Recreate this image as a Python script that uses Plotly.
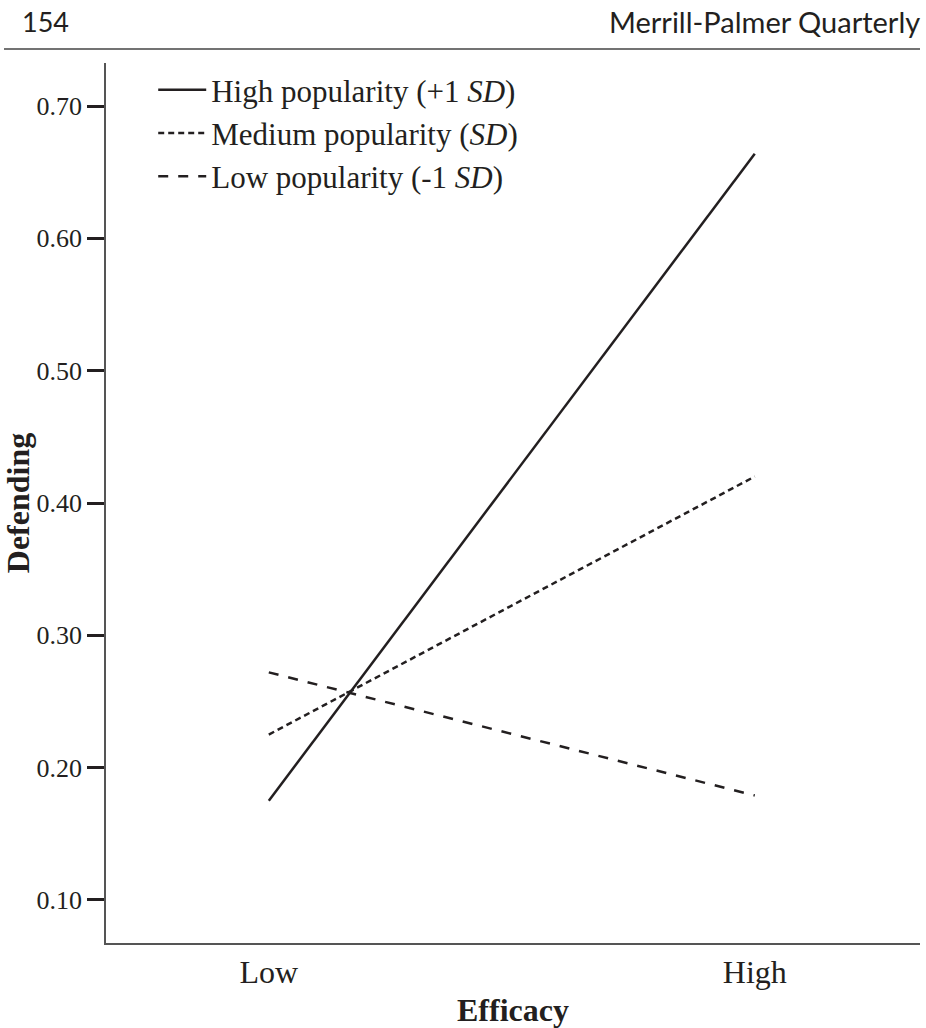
import plotly.graph_objects as go

# Predicted defending at low / high efficacy for three popularity levels
efficacy = ["Low", "High"]
high_pop = [0.175, 0.664]
medium_pop = [0.225, 0.420]
low_pop = [0.272, 0.179]

series_names = [
    "High popularity (+1 <i>SD</i>)",
    "Medium popularity (<i>SD</i>)",
    "Low popularity (-1 <i>SD</i>)",
]

y_ticks = [0.10, 0.20, 0.30, 0.40, 0.50, 0.60, 0.70]
y_tick_text = ["0.10", "0.20", "0.30", "0.40", "0.50", "0.60", "0.70"]

SERIF = "Liberation Serif, Times New Roman, serif"
INK = "#231f20"

fig = go.Figure()
fig.add_trace(go.Scatter(x=efficacy, y=high_pop, mode="lines", name=series_names[0],
                         line=dict(color=INK, width=2.5, dash="solid")))
fig.add_trace(go.Scatter(x=efficacy, y=medium_pop, mode="lines", name=series_names[1],
                         line=dict(color=INK, width=2.5, dash="6px,4px")))
fig.add_trace(go.Scatter(x=efficacy, y=low_pop, mode="lines", name=series_names[2],
                         line=dict(color=INK, width=2.5, dash="10px,10px")))

fig.update_layout(
    width=926, height=1028,
    margin=dict(l=106, r=6, t=63, b=85),
    paper_bgcolor="white", plot_bgcolor="white",
    showlegend=True,
    legend=dict(
        x=0.058, y=1.0, xanchor="left", yanchor="top",
        font=dict(family=SERIF, size=31, color=INK),
        bgcolor="rgba(0,0,0,0)", itemwidth=48, tracegroupgap=0,
    ),
    xaxis=dict(
        type="category", range=[-0.335, 1.34],
        showline=True, linecolor="#555", linewidth=1.5,
        ticks="", showgrid=False, zeroline=False,
        tickfont=dict(family=SERIF, size=32, color=INK),
        title=dict(text="<b>Efficacy</b>", font=dict(family=SERIF, size=32, color=INK), standoff=10),
    ),
    yaxis=dict(
        range=[0.0675, 0.7325],
        tickvals=y_ticks, ticktext=y_tick_text,
        showline=True, linecolor="#555", linewidth=1.5,
        ticks="outside", ticklen=17, tickwidth=2.5, tickcolor=INK,
        showgrid=False, zeroline=False,
        tickfont=dict(family=SERIF, size=26, color=INK),
        title=dict(text="<b>Defending</b>", font=dict(family=SERIF, size=32, color=INK), standoff=6),
    ),
)

# Running page header
fig.add_annotation(text="154", xref="paper", yref="paper", x=-0.1057, y=1.0466,
                   xanchor="left", yanchor="middle", showarrow=False,
                   font=dict(family="Lato, sans-serif", size=27, color=INK))
fig.add_annotation(text="Merrill-Palmer Quarterly", xref="paper", yref="paper", x=1.002, y=1.0466,
                   xanchor="right", yanchor="middle", showarrow=False,
                   font=dict(family="Lato, sans-serif", size=29, color=INK))
fig.add_shape(type="line", xref="paper", yref="paper", x0=-0.1253, x1=1.0, y0=1.0159, y1=1.0159,
              line=dict(color="#444", width=1.5))

fig.write_html("out.html")
